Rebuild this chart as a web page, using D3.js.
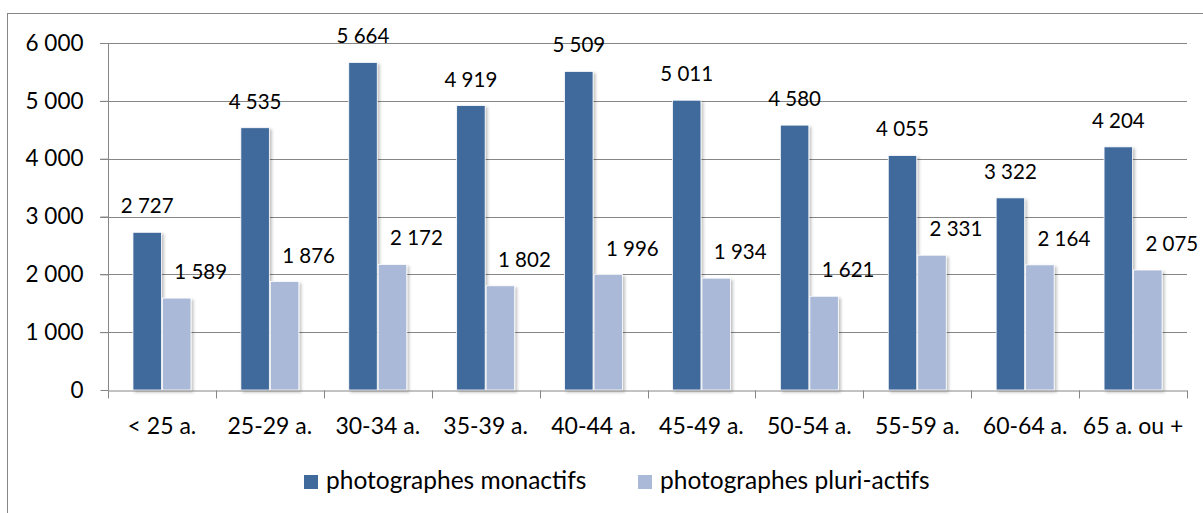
<!DOCTYPE html>
<html>
<head>
<meta charset="utf-8">
<script src="https://cdn.jsdelivr.net/npm/d3@7"></script>
<style>
  body { margin: 0; background: #fff; }
  svg text { font-family: Lato, "Open Sans", sans-serif; fill: #000; }
</style>
</head>
<body>
<div class="svg-container"></div>
<script>
// chart data
const categories = ['< 25 a.', '25-29 a.', '30-34 a.', '35-39 a.', '40-44 a.', '45-49 a.', '50-54 a.', '55-59 a.', '60-64 a.', '65 a. ou +'];
const monactifs = [2727, 4535, 5664, 4919, 5509, 5011, 4580, 4055, 3322, 4204];
const pluriActifs = [1589, 1876, 2172, 1802, 1996, 1934, 1621, 2331, 2164, 2075];
const seriesNames = ['photographes monactifs', 'photographes pluri-actifs'];
const yTicks = [0, 1000, 2000, 3000, 4000, 5000, 6000];

const renderChart = () => {
  const width = 1203;
  const height = 513;
  const margin = { top: 43, right: 16, bottom: 123, left: 108 };
  const colors = ['#416a9c', '#a9b9d7'];

  const fmt = d3.formatLocale({ decimal: ',', thousands: ' ', grouping: [3], currency: ['', ' €'] }).format(',d');

  const svg = d3.select('.svg-container')
    .append('svg')
    .attr('width', width)
    .attr('height', height);

  // drop shadow for bars
  const filter = svg.append('defs').append('filter')
    .attr('id', 'shadow')
    .attr('x', '-20%').attr('y', '-5%')
    .attr('width', '150%').attr('height', '115%');
  filter.append('feDropShadow')
    .attr('dx', 2).attr('dy', 2)
    .attr('stdDeviation', 1.6)
    .attr('flood-color', '#000')
    .attr('flood-opacity', 0.25);

  // outer frame
  svg.append('rect')
    .attr('x', 7.5).attr('y', 13.5)
    .attr('width', 1210).attr('height', 520)
    .attr('fill', 'none')
    .attr('stroke', '#868686')
    .attr('stroke-width', 1);

  const x0 = d3.scaleBand()
    .domain(categories)
    .range([margin.left, width - margin.right])
    .paddingInner(0)
    .paddingOuter(0);

  const y = d3.scaleLinear()
    .domain([0, 6000])
    .range([height - margin.bottom, margin.top]);

  const barW = 29.5;
  const x1 = d3.scaleBand()
    .domain([0, 1])
    .range([x0.bandwidth() / 2 - barW, x0.bandwidth() / 2 + barW])
    .padding(0);

  // gridlines
  svg.append('g')
    .selectAll('line')
    .data(yTicks.filter(d => d > 0))
    .enter()
    .append('line')
    .attr('x1', margin.left - 8)
    .attr('x2', width - margin.right)
    .attr('y1', d => Math.round(y(d)) + 0.5)
    .attr('y2', d => Math.round(y(d)) + 0.5)
    .attr('stroke', '#868686')
    .attr('stroke-width', 1);

  // y axis
  const yAxis = svg.append('g')
    .attr('transform', `translate(${margin.left + 0.5},0)`)
    .call(d3.axisLeft(y).tickValues(yTicks).tickFormat(fmt).tickSize(8).tickPadding(17));
  yAxis.select('.domain').attr('stroke', '#868686').attr('d', `M0,${y(0)}V${y(6000)}`);
  yAxis.selectAll('.tick line').attr('stroke', '#868686');
  yAxis.selectAll('.tick text').style('font-size', '22.5px');

  // bars
  const seriesData = [monactifs, pluriActifs];
  const groups = svg.append('g')
    .selectAll('g')
    .data(categories)
    .enter()
    .append('g')
    .attr('transform', d => `translate(${x0(d)},0)`);

  groups.selectAll('rect')
    .data((d, i) => seriesData.map((s, k) => ({ k, v: s[i] })))
    .enter()
    .append('rect')
    .attr('x', d => x1(d.k) + 0.5)
    .attr('y', d => y(d.v))
    .attr('width', x1.bandwidth() - 1)
    .attr('height', d => y(0) - y(d.v))
    .attr('fill', d => colors[d.k])
    .attr('stroke', '#ffffff')
    .attr('stroke-width', 0.8)
    .attr('filter', 'url(#shadow)');

  // data labels (the light series is nudged right, as in the source)
  groups.selectAll('text')
    .data((d, i) => seriesData.map((s, k) => ({ k, v: s[i] })))
    .enter()
    .append('text')
    .attr('x', d => x1(d.k) + x1.bandwidth() / 2 + (d.k === 0 ? 0 : 24))
    .attr('y', d => y(d.v) - 19)
    .attr('text-anchor', 'middle')
    .style('font-size', '20.5px')
    .text(d => fmt(d.v));

  // x axis
  const xAxis = svg.append('g')
    .attr('transform', `translate(0,${y(0) + 0.5})`)
    .call(d3.axisBottom(x0).tickSize(0).tickPadding(27));
  xAxis.select('.domain').attr('stroke', '#868686');
  xAxis.selectAll('.tick text').style('font-size', '23px');
  xAxis.selectAll('.catTick')
    .data(d3.range(categories.length + 1))
    .enter()
    .append('line')
    .attr('class', 'catTick')
    .attr('x1', i => Math.round(margin.left + i * x0.bandwidth()) + 0.5)
    .attr('x2', i => Math.round(margin.left + i * x0.bandwidth()) + 0.5)
    .attr('y1', 0)
    .attr('y2', 8)
    .attr('stroke', '#868686');

  // legend
  const legendY = 482;
  const legendX = [304, 638];
  const legend = svg.append('g')
    .selectAll('g')
    .data(seriesNames)
    .enter()
    .append('g')
    .attr('transform', (d, i) => `translate(${legendX[i]},${legendY})`);
  legend.append('rect')
    .attr('x', 0).attr('y', -7)
    .attr('width', 14).attr('height', 14)
    .attr('fill', (d, i) => colors[i]);
  legend.append('text')
    .attr('x', 22)
    .attr('y', 7)
    .style('font-size', '24.5px')
    .text(d => d);
};

renderChart();
</script>
</body>
</html>
